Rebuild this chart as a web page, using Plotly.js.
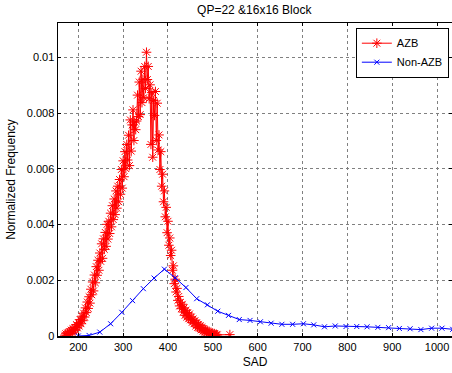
<!DOCTYPE html>
<html>
<head>
<meta charset="utf-8">
<script src="https://cdn.plot.ly/plotly-3.0.1.min.js"></script>
<style>
  html, body { margin: 0; padding: 0; background: #fff; }
  #chart { width: 452px; height: 373px; }
</style>
</head>
<body>
<div id="chart"></div>
<script>
// ---- Data ----
const chartTitle = "QP=22 &16x16 Block";
const xLabel = "SAD";
const yLabel = "Normalized Frequency";

const azbSAD = [
  170,172,174,176,178,180,182,184,186,188,
  190,192,194,196,198,200,202,204,206,208,
  210,212,214,216,218,220,222,224,226,228,
  230,232,234,236,238,240,242,244,246,248,
  250,252,254,256,258,260,262,264,266,268,
  270,272,274,276,278,280,282,284,286,288,
  290,292,294,296,298,300,302,304,306,308,
  310,312,314,316,318,320,322,324,326,328,
  330,332,334,336,338,340,342,344,346,348,
  350,352,354,356,358,360,362,364,366,368,
  370,372,374,376,378,380,382,384,386,388,
  390,392,394,396,398,400,402,404,406,408,
  410,412,414,416,418,420,422,424,426,428,
  430,432,434,436,438,440,442,444,446,448,
  450,452,454,456,458,460,462,464,466,468,
  470,472,474,476,478,480,482,484,486,488,
  490,492,494,496,498,500,502,504,506,508,
  510,538
];
const azbFreq = [
  0.00003,0.00008,0.00001,0.00011,0.00005,0.00016,0.00009,0.00021,0.00013,0.00026,
  0.00019,0.00031,0.00022,0.00041,0.00029,0.00048,0.00036,0.00059,0.00044,0.00071,
  0.00055,0.00082,0.00068,0.00101,0.00084,0.00122,0.00099,0.00141,0.00118,0.00168,
  0.00148,0.00194,0.00162,0.00219,0.00191,0.00249,0.00218,0.00272,0.00236,0.00298,
  0.00268,0.00331,0.00279,0.00349,0.00311,0.00372,0.00322,0.00401,0.00348,0.00412,
  0.00368,0.00441,0.00392,0.00468,0.00418,0.00492,0.00436,0.00521,0.00459,0.00538,
  0.00482,0.00562,0.00509,0.00598,0.00531,0.00629,0.00572,0.00662,0.00601,0.00688,
  0.00632,0.00721,0.00612,0.00776,0.00664,0.00758,0.00812,0.00702,0.00768,0.00741,
  0.00772,0.00865,0.00788,0.00912,0.00795,0.00951,0.00838,0.00922,0.00856,0.00968,
  0.00889,0.01019,0.00921,0.00968,0.00852,0.00902,0.00688,0.00874,0.00642,0.00846,
  0.00792,0.00878,0.00702,0.00836,0.00668,0.00722,0.00598,0.00662,0.00538,0.00581,
  0.00482,0.00521,0.00428,0.00462,0.00371,0.00412,0.00326,0.00352,0.00289,0.00308,
  0.00236,0.00252,0.00188,0.00204,0.00158,0.00171,0.00128,0.00142,0.00108,0.00121,
  0.00098,0.00114,0.00086,0.00101,0.00074,0.00092,0.00068,0.00084,0.00062,0.00079,
  0.00058,0.00068,0.00049,0.00061,0.00044,0.00055,0.00036,0.00048,0.00031,0.00042,
  0.00028,0.00037,0.00022,0.00031,0.00018,0.00027,0.00014,0.00022,0.00011,0.00018,
  0.00009,0.00015,0.00006,0.00012,0.00005,0.00009,0.00003,0.00008,0.00002,0.00006,
  0.00004,0.00005
];

const nonAzbSAD = [
  200,224,248,272,297,321,345,369,392,416,
  440,464,488,511,535,559,583,606,630,654,
  678,702,725,749,773,797,821,844,868,892,
  916,940,964,988,1011,1035
];
const nonAzbFreq = [
  0.00000,0.00002,0.00014,0.00044,0.00085,0.00127,0.00170,0.00208,0.00240,0.00209,
  0.00174,0.00134,0.00112,0.00089,0.00074,0.00059,0.00056,0.00051,0.00046,0.00042,
  0.00042,0.00044,0.00040,0.00033,0.00036,0.00034,0.00034,0.00033,0.00031,0.00030,
  0.00027,0.00026,0.00023,0.00028,0.00028,0.00024
];

const xTicks = [200,300,400,500,600,700,800,900,1000];
const xTickText = ["200","300","400","500","600","700","800","900","1000"];
const yTicks = [0,0.002,0.004,0.006,0.008,0.01];
const yTickText = ["0","0.002","0.004","0.006","0.008","0.01"];

// ---- Plot ----
const font = "Liberation Sans, Arial, sans-serif";

const traces = [
  {
    x: azbSAD, y: azbFreq, name: "AZB", type: "scatter", mode: "lines+markers",
    line: { color: "#ff0000", width: 1 },
    marker: { symbol: "asterisk-open", size: 8, color: "#ff0000", line: { color: "#ff0000", width: 1 } }
  },
  {
    x: nonAzbSAD, y: nonAzbFreq, name: "Non-AZB", type: "scatter", mode: "lines+markers",
    line: { color: "#0000ff", width: 1 },
    marker: { symbol: "x-thin-open", size: 5, color: "#0000ff", line: { color: "#0000ff", width: 1 } }
  }
];

const axisCommon = {
  showline: true, linecolor: "#000", linewidth: 1.5, mirror: "ticks",
  ticks: "inside", ticklen: 3, tickwidth: 1, tickcolor: "#000",
  showgrid: true, gridcolor: "#808080", gridwidth: 1, griddash: "dot",
  zeroline: false, automargin: false,
  tickfont: { family: font, size: 11, color: "#000" }
};

const layout = {
  width: 452, height: 373,
  margin: { l: 58, r: 0, t: 23, b: 37 },
  paper_bgcolor: "#fff", plot_bgcolor: "#fff",
  font: { family: font, size: 11, color: "#000" },
  title: { text: chartTitle, font: { family: font, size: 12, color: "#000" }, x: 0.5625, xanchor: "center", y: 0.973, yanchor: "middle" },
  xaxis: Object.assign({}, axisCommon, {
    range: [154.7, 1033.4], tickmode: "array", tickvals: xTicks, ticktext: xTickText,
    title: { text: xLabel, font: { family: font, size: 12, color: "#000" }, standoff: 6 }
  }),
  yaxis: Object.assign({}, axisCommon, {
    range: [0, 0.01124], tickmode: "array", tickvals: yTicks, ticktext: yTickText,
    title: { text: yLabel, font: { family: font, size: 12, color: "#000" }, standoff: 8 }
  }),
  showlegend: true,
  legend: {
    x: 0.992, xanchor: "right", y: 0.985, yanchor: "top",
    bgcolor: "#fff", bordercolor: "#000", borderwidth: 1,
    font: { family: font, size: 11, color: "#000" },
    itemwidth: 30, tracegroupgap: 0
  }
};

Plotly.newPlot("chart", traces, layout, { staticPlot: true, displayModeBar: false });
</script>
</body>
</html>
